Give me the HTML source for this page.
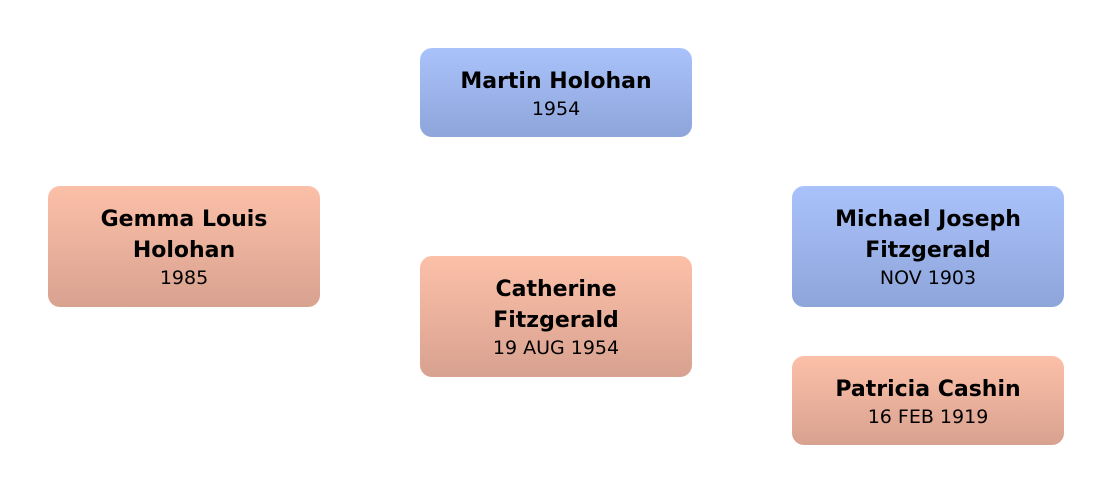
<!DOCTYPE html>
<html><head><meta charset="utf-8"><style>
body{margin:0;width:1112px;height:494px;background:#fff;position:relative;overflow:hidden;font-family:"DejaVu Sans","Liberation Sans",sans-serif;}
.b{position:absolute;width:272px;border-radius:12px;display:flex;flex-direction:column;justify-content:center;align-items:center;text-align:center;color:#000;}
.m{background:linear-gradient(#aac2fb,#8ea5da);}
.f{background:linear-gradient(#fcc0a8,#d8a290);}
.n{font-weight:bold;font-size:22px;line-height:31px;margin-top:2px;}
.d{font-size:19px;line-height:25px;}
</style></head><body>
<div class="b m" style="left:420px;top:48px;height:89px"><div class="n">Martin Holohan</div><div class="d">1954</div></div>
<div class="b f" style="left:48px;top:186px;height:121px"><div class="n">Gemma Louis<br>Holohan</div><div class="d">1985</div></div>
<div class="b f" style="left:420px;top:256px;height:121px"><div class="n">Catherine<br>Fitzgerald</div><div class="d">19 AUG 1954</div></div>
<div class="b m" style="left:792px;top:186px;height:121px"><div class="n">Michael Joseph<br>Fitzgerald</div><div class="d">NOV 1903</div></div>
<div class="b f" style="left:792px;top:356px;height:89px"><div class="n">Patricia Cashin</div><div class="d">16 FEB 1919</div></div>
</body></html>
